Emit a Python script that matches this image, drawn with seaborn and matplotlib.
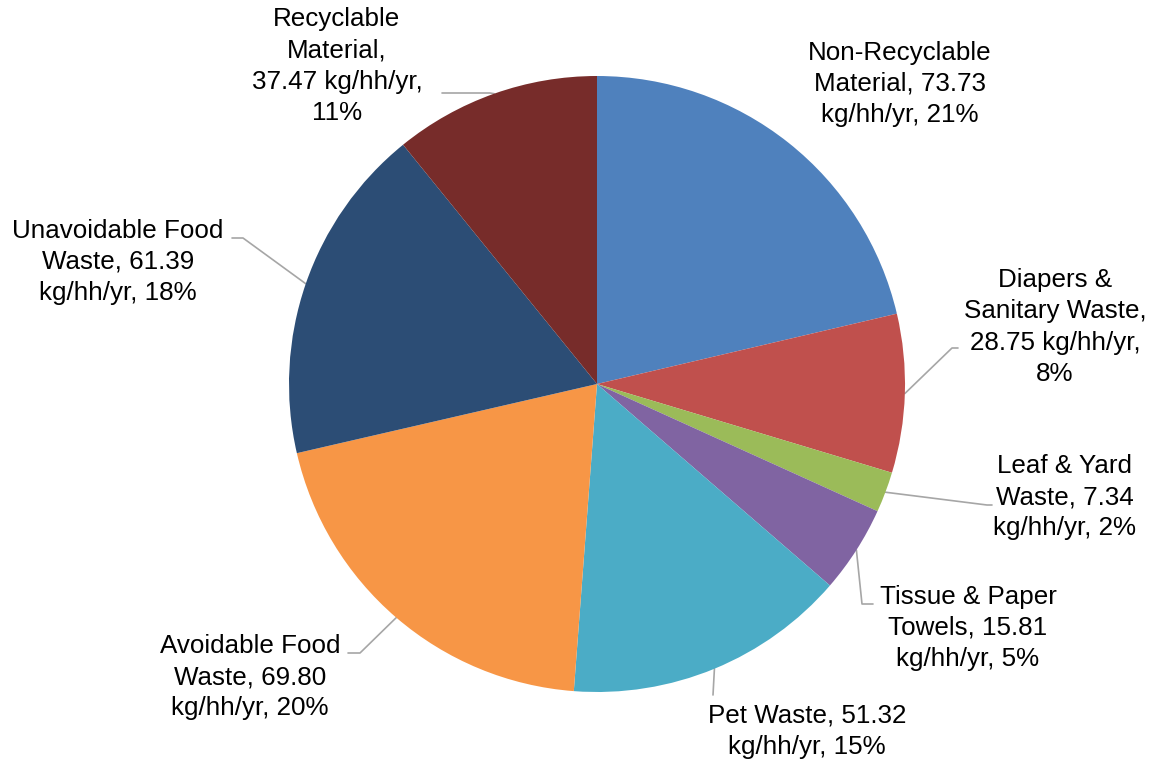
import numpy as np
import matplotlib.pyplot as plt
import seaborn as sns

# 資料
categories = ['Non-Recyclable Material', 'Diapers & Sanitary Waste', 'Leaf & Yard Waste',
              'Tissue & Paper Towels', 'Pet Waste', 'Avoidable Food Waste',
              'Unavoidable Food Waste', 'Recyclable Material']
values = [73.73, 28.75, 7.34, 15.81, 51.32, 69.80, 61.39, 37.47]
label_fmt = [
    'Non-Recyclable\nMaterial, {v:.2f}\nkg/hh/yr, {p}%',
    'Diapers &\nSanitary Waste,\n{v:.2f} kg/hh/yr,\n{p}%',
    'Leaf & Yard\nWaste, {v:.2f}\nkg/hh/yr, {p}%',
    'Tissue & Paper\nTowels, {v:.2f}\nkg/hh/yr, {p}%',
    'Pet Waste, {v:.2f}\nkg/hh/yr, {p}%',
    'Avoidable Food\nWaste, {v:.2f}\nkg/hh/yr, {p}%',
    'Unavoidable Food\nWaste, {v:.2f}\nkg/hh/yr, {p}%',
    'Recyclable\nMaterial,\n{v:.2f} kg/hh/yr,\n{p}%',
]
colors = ['#4F81BD', '#C0504D', '#9BBB59', '#8064A2',
          '#4BACC6', '#F79646', '#2C4D75', '#772C2A']

# 版面 (像素座標, y 向下)
W, H = 1151, 761
center_px = (597, 384)
radius_px = 308
label_pos = [(900, 84), (1055, 327), (1065, 497), (968, 628),
             (807, 731), (250, 677), (118, 262), (337, 66)]
# 引導線轉折點, 以及水平段終點
elbows = [None,
          [(952, 348), (958, 348)],
          [(987, 505), (992, 505)],
          [(862, 604), (873, 604)],
          [(713, 695)],
          [(360, 653), (348, 653)],
          [(243, 238), (232, 238)],
          [(490, 93), (442, 93)]]

sns.set_theme(style='white')
plt.rcParams['font.family'] = ['Liberation Sans', 'DejaVu Sans']

fig = plt.figure(figsize=(W / 100, H / 100), dpi=100)
ax = fig.add_axes([0, 0, 1, 1])

cx, cy = center_px[0], H - center_px[1]
wedges, _ = ax.pie(values, colors=colors, startangle=90, counterclock=False,
                   center=(cx, cy), radius=radius_px, frame=True,
                   wedgeprops=dict(linewidth=0))
ax.set_xlim(0, W)
ax.set_ylim(0, H)
ax.set_aspect('equal')
ax.axis('off')

total = sum(values)
for w, v, fmt, (lx, ly), elb in zip(wedges, values, label_fmt, label_pos, elbows):
    pct = int(round(v / total * 100))
    ax.text(lx, H - ly, fmt.format(v=v, p=pct), ha='center', va='center',
            fontsize=18.7, linespacing=1.37, color='black')
    if elb is None:
        continue
    ang = np.deg2rad((w.theta1 + w.theta2) / 2)
    xs = [cx + radius_px * np.cos(ang)] + [p[0] for p in elb]
    ys = [cy + radius_px * np.sin(ang)] + [H - p[1] for p in elb]
    ax.plot(xs, ys, color='#A6A6A6', lw=1.2, zorder=0)

fig.savefig('out.png', dpi=100)
